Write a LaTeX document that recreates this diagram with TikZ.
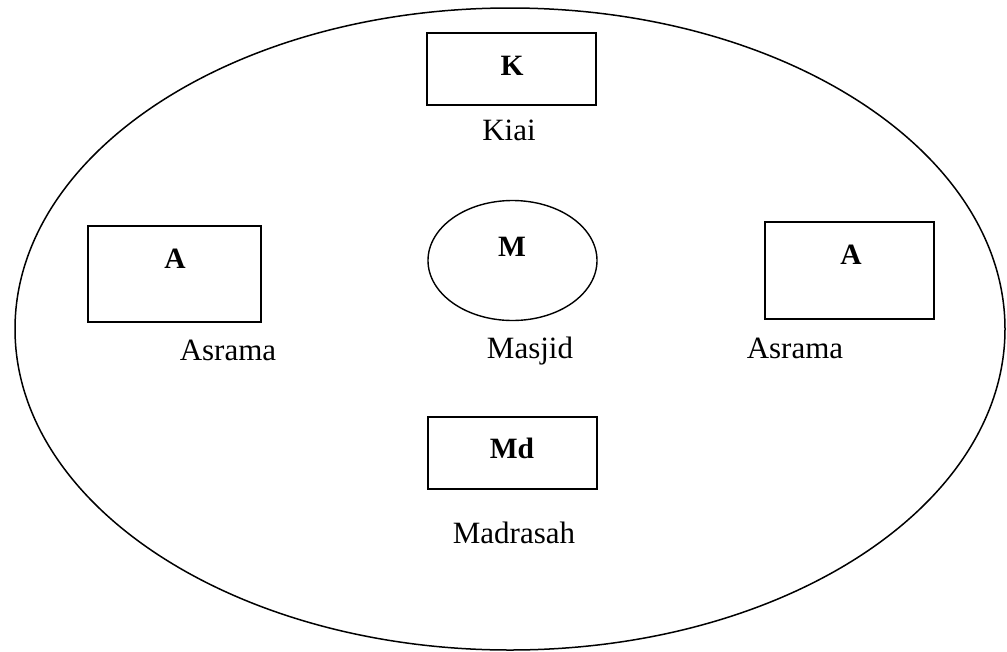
\documentclass[tikz,border=0pt]{standalone}
\usepackage{fontspec}
\setmainfont{Liberation Serif}
\usetikzlibrary{shapes.geometric}
\begin{document}
\begin{tikzpicture}[x=1pt,y=-1pt,
  outline/.style={draw=black,line width=1.4pt,inner sep=0pt,outer sep=0pt},
  lab/.style={anchor=base,inner sep=0pt,font=\fontsize{31}{37}\selectfont},
  blab/.style={anchor=base,inner sep=0pt,font=\fontsize{29.5}{36}\selectfont\bfseries}]
\useasboundingbox (0,0) rectangle (1007,651);
\node[outline,ellipse,line width=1.5pt,minimum width=990pt,minimum height=642pt] (site) at (510,329) {};
\node[outline,rectangle,minimum width=169pt,minimum height=72pt] (kbox) at (511.5,69) {};
\node[outline,rectangle,minimum width=173pt,minimum height=96pt] (abox1) at (174.5,274) {};
\node[outline,rectangle,minimum width=169pt,minimum height=97pt] (abox2) at (849.5,270.5) {};
\node[outline,ellipse,minimum width=169pt,minimum height=120pt] (mell) at (512.5,260.5) {};
\node[outline,rectangle,minimum width=169pt,minimum height=72pt] (mdbox) at (512.5,453) {};
\node[blab] (k) at (512,75.5) {K};
\node[lab] (kiai) at (509,140) {Kiai};
\node[blab] (a1) at (175,268) {A};
\node[lab] (asr1) at (228,360) {Asrama};
\node[blab] (m) at (512,256.5) {M};
\node[lab] (masjid) at (530,358) {Masjid};
\node[blab] (a2) at (851,264) {A};
\node[lab] (asr2) at (795,358) {Asrama};
\node[blab] (md) at (512,458) {Md};
\node[lab] (madrasah) at (514,543) {Madrasah};
\end{tikzpicture}
\end{document}
